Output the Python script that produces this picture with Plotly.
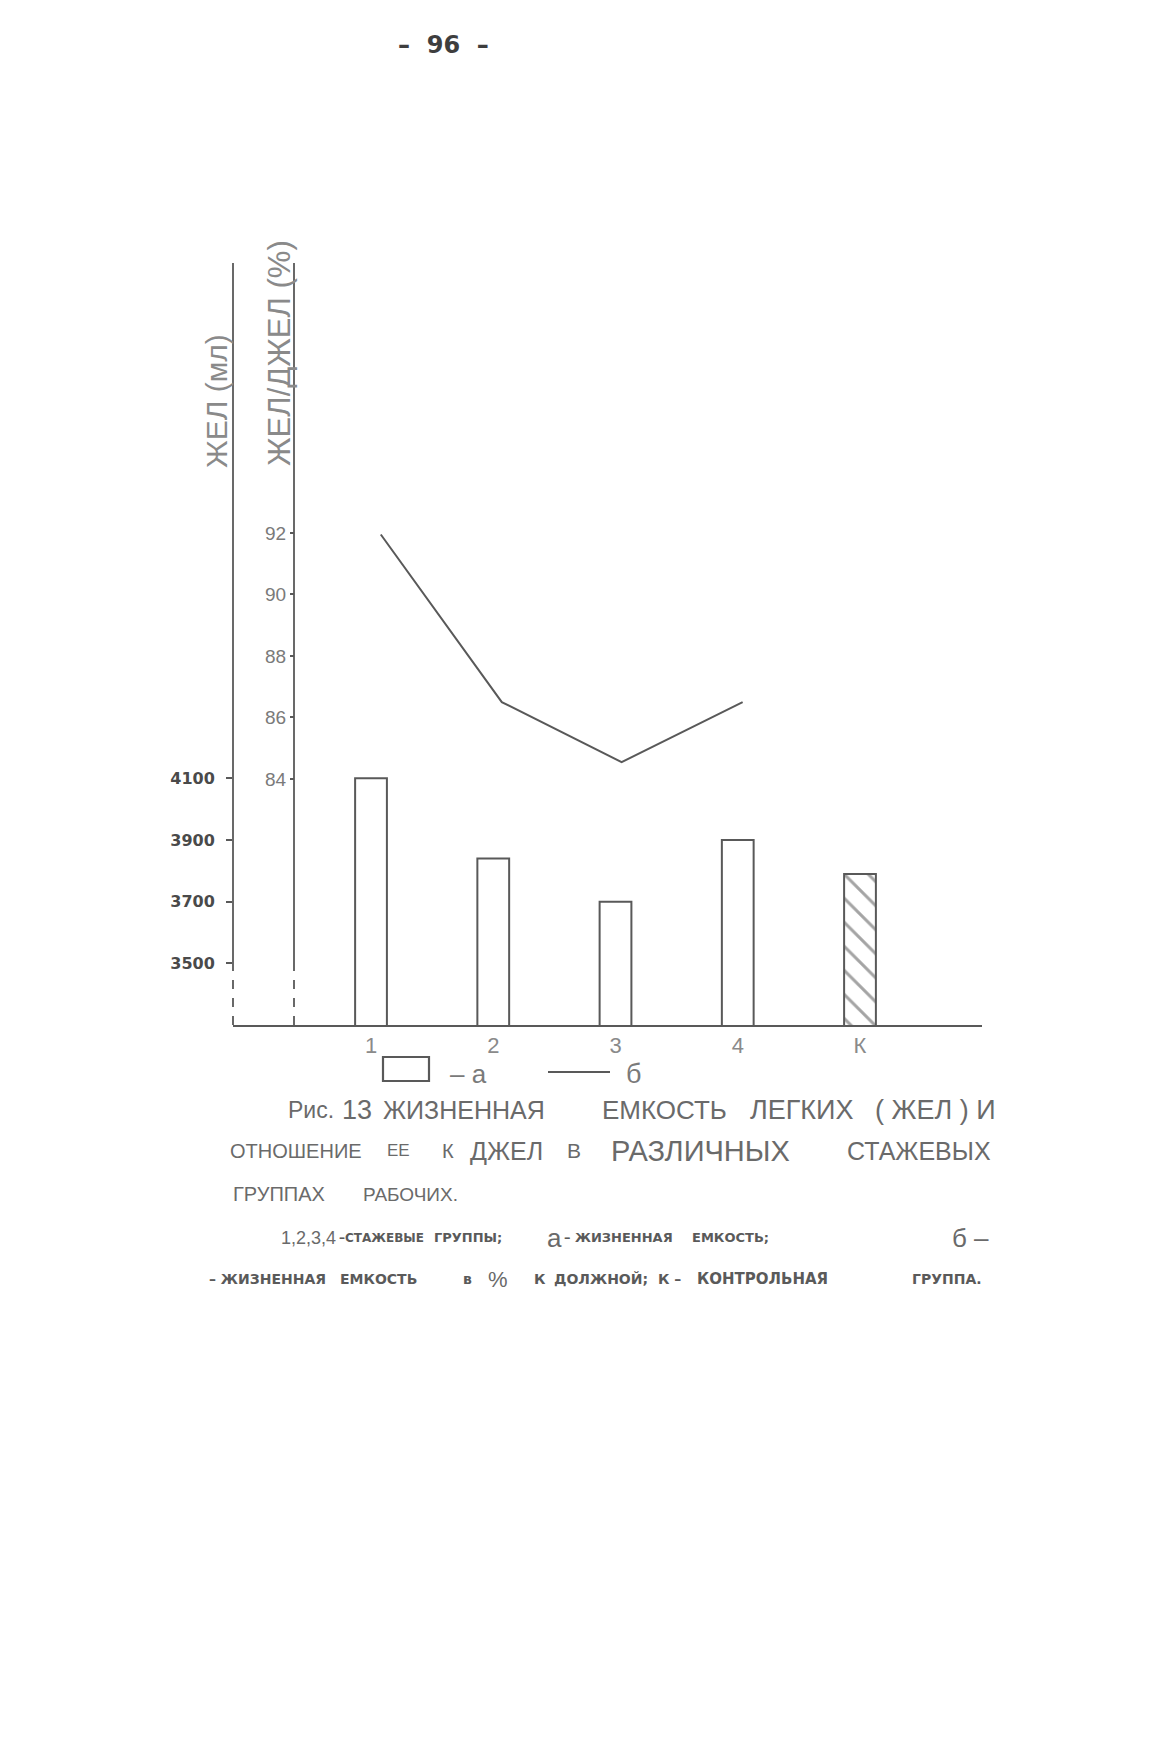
import plotly.graph_objects as go

# ---- data ----
groups = ["1", "2", "3", "4", "К"]
group_pos = [1, 2, 3, 4, 5]
zhel_ml = [4100, 3840, 3700, 3900, 3790]          # bars (а)
line_pos = [1.08, 2.07, 3.05, 4.04]
zhel_pct = [91.95, 86.5, 84.55, 86.5]             # line (б)
left_ticks = [3500, 3700, 3900, 4100]
right_ticks = [84, 86, 88, 90, 92]
bar_patterns = ["", "", "", "", "\\"]

# page geometry (page pixels); the html body has an 8px margin
OFF = 8
PW, PH = 1171, 1747
L, R, T, B = 233, 982, 263, 1025
W, H = PW - 2 * OFF, PH - 2 * OFF
S = 1171 / 1051


def xp(px):
    return (px - L) / (R - L)


def yp(py):
    return (B - py) / (B - T)


INK = "#595959"
TXT = "#6a6a6a"
LIB = "Liberation Sans, Arial, sans-serif"
DJ = "DejaVu Sans, sans-serif"

fig = go.Figure()
fig.add_trace(go.Bar(
    x=group_pos, y=zhel_ml, width=0.26,
    marker=dict(color="white", line=dict(color=INK, width=2),
                pattern=dict(shape=bar_patterns, fgcolor="#4a4a4a", bgcolor="white",
                             size=17, solidity=0.18)),
    showlegend=False, hoverinfo="skip"))
fig.add_trace(go.Scatter(
    x=line_pos, y=zhel_pct, yaxis="y2", mode="lines",
    line=dict(color=INK, width=2), showlegend=False, hoverinfo="skip"))

fig.update_layout(
    width=W, height=H,
    margin=dict(l=L - OFF, r=W - (R - OFF), t=T - OFF, b=H - (B - OFF)),
    paper_bgcolor="white", plot_bgcolor="white",
    xaxis=dict(range=[-0.129, 5.998], showline=True, linecolor=INK, linewidth=2,
               tickvals=group_pos, ticktext=groups, ticks="", showgrid=False,
               zeroline=False, ticklabelstandoff=0,
               tickfont=dict(family=LIB, size=22, color="#8a8a8a")),
    yaxis=dict(range=[3300, 5771], showline=False, showgrid=False, zeroline=False,
               tickvals=left_ticks, ticks="outside", ticklen=6, tickcolor=INK,
               tickwidth=1.5, ticklabelstandoff=8,
               tickfont=dict(family=DJ, size=16, color="#4a4a4a", weight="bold")),
    yaxis2=dict(range=[76, 100.78], overlaying="y", anchor="free", position=xp(294),
                side="left", showline=False, showgrid=False, zeroline=False,
                tickvals=right_ticks, ticks="outside", ticklen=4, tickcolor=INK,
                tickwidth=1.5, ticklabelstandoff=0,
                tickfont=dict(family=LIB, size=19, color="#7a7a7a")),
)

# axis lines (solid upper part, dashed lower part)
shapes = []
for ax_px in (L, 294):
    shapes.append(dict(type="line", xref="paper", yref="paper", x0=xp(ax_px), x1=xp(ax_px),
                       y0=yp(963), y1=1, line=dict(color=INK, width=1.8)))
    shapes.append(dict(type="line", xref="paper", yref="paper", x0=xp(ax_px), x1=xp(ax_px),
                       y0=0, y1=yp(963), line=dict(color=INK, width=1.8, dash="dash")))
# legend marks
shapes.append(dict(type="rect", xref="paper", yref="paper", x0=xp(383), x1=xp(429),
                   y0=yp(1081), y1=yp(1057), line=dict(color=INK, width=2.2), fillcolor="white"))
shapes.append(dict(type="line", xref="paper", yref="paper", x0=xp(548), x1=xp(610),
                   y0=yp(1072), y1=yp(1072), line=dict(color=INK, width=2)))
fig.update_layout(shapes=shapes)

ann = []


def text(t, x, y, size, color=TXT, family=LIB, xanchor="left", weight="normal", angle=0):
    ann.append(dict(text=t, xref="paper", yref="paper", x=xp(x), y=yp(y), showarrow=False,
                    xanchor=xanchor, yanchor="middle", textangle=angle,
                    font=dict(family=family, size=size, color=color, weight=weight)))


# page number
text("–\u00a0\u00a096\u00a0\u00a0–", 443, 45, 24, color="#3e3e3e", family=DJ,
     xanchor="center", weight="bold")
# axis titles
text("ЖЕЛ (мл)", 216, 401, 30, color="#8a8a8a", xanchor="center", angle=-90)
text("ЖЕЛ/ДЖЕЛ (%)", 279, 353, 31, color="#8a8a8a", xanchor="center", angle=-90)
# legend texts
text("–\u00a0а", 448, 1074, 26, color="#7a7a7a")
text("б", 624, 1074, 27, color="#7a7a7a")

# caption words: (text, left, right) in shown-scale pixels, size, style
BIG = (LIB, "normal", TXT)
SM = (DJ, "bold", "#5a5a5a")
cap = [
    (996, [("Рис.", 260, 298, 23, BIG), ("13", 308, 332, 27, BIG),
           ("ЖИЗНЕННАЯ", 344, 489, 25, BIG), ("ЕМКОСТЬ", 543, 650, 26, BIG),
           ("ЛЕГКИХ", 672, 768, 27, BIG), ("( ЖЕЛ ) И", 785, 895, 27, BIG)]),
    (1033, [("ОТНОШЕНИЕ", 210, 322, 20, BIG), ("ЕЕ", 348, 367, 17, BIG),
            ("К", 397, 407, 20, BIG), ("ДЖЕЛ", 423, 487, 25, BIG), ("В", 510, 520, 21, BIG),
            ("РАЗЛИЧНЫХ", 540, 717, 29, BIG), ("СТАЖЕВЫХ", 760, 890, 25, BIG)]),
    (1072, [("ГРУППАХ", 210, 290, 20, BIG), ("РАБОЧИХ.", 326, 410, 19, BIG)]),
    (1111, [("1,2,3,4", 254, 299, 18, BIG), ("–СТАЖЕВЫЕ", 304, 381, 12, SM),
            ("ГРУППЫ;", 393, 447, 13, SM), ("а", 490, 505, 26, BIG),
            ("–\u00a0ЖИЗНЕННАЯ", 510, 600, 13, SM), ("ЕМКОСТЬ;", 618, 693, 13, SM),
            ("б\u00a0–", 852, 890, 26, BIG)]),
    (1148, [("–\u00a0ЖИЗНЕННАЯ", 193, 287, 14, SM), ("ЕМКОСТЬ", 310, 370, 14, SM),
            ("в", 415, 425, 14, SM), ("%", 437, 457, 22, BIG), ("К", 480, 490, 14, SM),
            ("ДОЛЖНОЙ;", 503, 575, 14, SM), ("К\u00a0–", 590, 612, 14, SM),
            ("КОНТРОЛЬНАЯ", 618, 750, 15, SM), ("ГРУППА.", 822, 878, 14, SM)]),
]
for ys, words in cap:
    for w, x0, x1, size, (fam, wt, col) in words:
        text(w, (x0 + x1) / 2 * S, ys * S, size, color=col, family=fam,
             xanchor="center", weight=wt)

fig.update_layout(annotations=ann)
fig.write_html("out.html")
